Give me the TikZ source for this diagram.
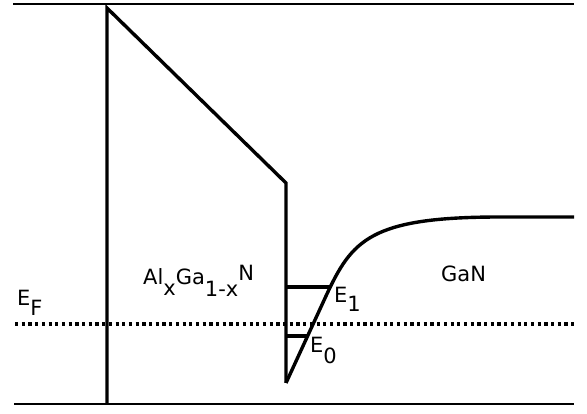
\documentclass[tikz,border=0pt]{standalone}
\usepackage{fontspec}
\setmainfont{DejaVu Sans}
\begin{document}
\begin{tikzpicture}[x=1pt,y=-1pt,
  band/.style={line width=3.4pt,line join=miter},
  edge/.style={line width=2.4pt},
  lbl/.style={font=\fontsize{21}{21}\selectfont,inner sep=0pt,anchor=base west}]
\useasboundingbox (0,0) rectangle (587,414);
% reference lines
\coordinate (tl) at (13,4);
\coordinate (tr) at (574,4);
\coordinate (bl) at (14,404);
\coordinate (br) at (574,404);
\draw[edge] (tl) -- (tr);
\draw[edge] (bl) -- (br);
% Fermi level
\coordinate (fl) at (15,324);
\coordinate (fr) at (574,324);
\draw[line width=3.2pt,dash pattern=on 3.2pt off 3.5pt] (fl) -- (fr);
% AlGaN barrier
\coordinate (a0) at (107,404);
\coordinate (a1) at (107,8);
\coordinate (a2) at (286,183);
\coordinate (a3) at (286,383);
\draw[band] (a0) -- (a1) -- (a2) -- (a3);
% GaN conduction band
\coordinate (c1) at (326,296);
\coordinate (c2) at (500,217);
\coordinate (c3) at (574,217);
\draw[band] (a3) -- (c1) .. controls (352,240) and (370,217) .. (c2) -- (c3);
% subbands
\coordinate (e1l) at (286,287);
\coordinate (e1r) at (330,287);
\coordinate (e0l) at (286,336);
\coordinate (e0r) at (307,336);
\draw[band] (e1l) -- (e1r);
\draw[band] (e0l) -- (e0r);
% labels
\node[lbl] (ef) at (17,306) {E\raisebox{-10pt}{F}};
\node[lbl] (algan) at (143,285) {Al\raisebox{-11pt}{x}Ga\raisebox{-12pt}{1-x}\raisebox{4pt}{N}};
\node[lbl] (gan) at (441,282) {GaN};
\node[lbl] (E1) at (334,303) {E\raisebox{-9pt}{1}};
\node[lbl] (E0) at (310,353) {E\raisebox{-10pt}{0}};
\end{tikzpicture}
\end{document}
